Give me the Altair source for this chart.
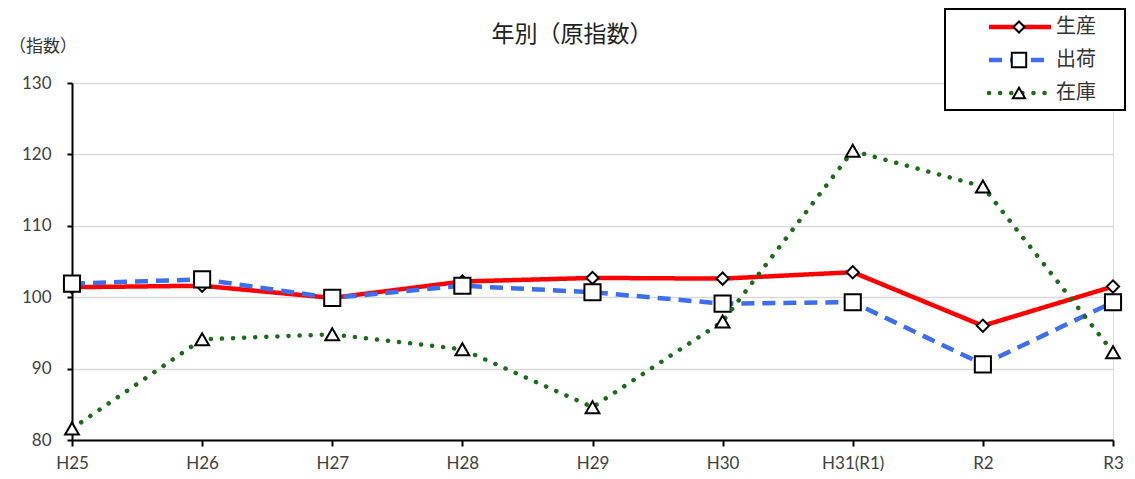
import altair as alt
import pandas as pd

years = ["H25", "H26", "H27", "H28", "H29", "H30", "H31(R1)", "R2", "R3"]
seisan = [101.4, 101.6, 99.9, 102.2, 102.7, 102.6, 103.5, 96.0, 101.5]
shukka = [101.9, 102.5, 99.9, 101.6, 100.7, 99.1, 99.3, 90.6, 99.3]
zaiko = [81.6, 94.1, 94.8, 92.7, 84.6, 96.6, 120.5, 115.5, 92.3]
series_names = ["生産", "出荷", "在庫"]
y_ticks = [80, 90, 100, 110, 120, 130]

rows = []
for name, vals in zip(series_names, [seisan, shukka, zaiko]):
    for yr, v in zip(years, vals):
        rows.append({"year": yr, "value": v, "series": name})
df = pd.DataFrame(rows)

FONT_JP = "Noto Sans CJK JP"
FONT_NUM = "Lato"

x_enc = alt.X(
    "year:N", sort=years,
    scale=alt.Scale(type="point", padding=0),
    axis=alt.Axis(title=None, labelAngle=0, grid=False, domainColor="black", domainWidth=2,
                  tickColor="black", tickSize=6, tickWidth=2, labelPadding=9,
                  labelFont=FONT_NUM, labelFontSize=17, labelColor="#404040"),
)
y_enc = alt.Y(
    "value:Q",
    scale=alt.Scale(domain=[80, 130], nice=False, zero=False),
    axis=alt.Axis(title=None, values=y_ticks, grid=True, gridColor="#d9d9d9", gridWidth=1.5,
                  domainColor="black", domainWidth=2, tickColor="black", tickSize=5, tickWidth=2,
                  labelPadding=16, labelFont=FONT_NUM, labelFontSize=17, labelColor="#404040"),
)

styles = {
    "生産": dict(color="#ff0000", dash=[1, 0], cap="butt", shape="diamond", size=150),
    "出荷": dict(color="#3d6ef0", dash=[13, 8], cap="butt", shape="square", size=260),
    "在庫": dict(color="#1a6b1a", dash=[0.1, 11], cap="round", shape="triangle-up", size=190),
}

base = alt.Chart(df)
layers = []
for name in series_names:
    s = styles[name]
    sub = base.transform_filter(alt.datum.series == name)
    layers.append(
        sub.mark_line(color=s["color"], strokeWidth=4.5, strokeDash=s["dash"], strokeCap=s["cap"])
        .encode(x=x_enc, y=y_enc)
    )
    layers.append(
        sub.mark_point(shape=s["shape"], size=s["size"], filled=True, fill="white",
                       stroke="black", strokeWidth=2, opacity=1)
        .encode(x=x_enc, y=y_enc)
    )

one = pd.DataFrame({"a": [0]})
# Title and y-axis unit
layers.append(alt.Chart(one).mark_text(text="年別（原指数）", font=FONT_JP, fontSize=23, color="#222222",
                                       align="center", baseline="middle")
              .encode(x=alt.value(500), y=alt.value(-48)))
layers.append(alt.Chart(one).mark_text(text="（指数）", font=FONT_JP, fontSize=17, color="#333333",
                                       align="left", baseline="middle")
              .encode(x=alt.value(-63), y=alt.value(-36)))

# Legend box
layers.append(alt.Chart(one).mark_rect(fill="white", stroke="black", strokeWidth=2)
              .encode(x=alt.value(873), x2=alt.value(1053), y=alt.value(-74), y2=alt.value(27)))
legend_y = [-56, -23, 10]
for name, ly in zip(series_names, legend_y):
    s = styles[name]
    layers.append(alt.Chart(one).mark_rule(color=s["color"], strokeWidth=4.5, strokeDash=s["dash"],
                                           strokeCap=s["cap"])
                  .encode(x=alt.value(917), x2=alt.value(979), y=alt.value(ly)))
    layers.append(alt.Chart(one).mark_point(shape=s["shape"], size=s["size"] * 0.8, filled=True, fill="white",
                                            stroke="black", strokeWidth=2, opacity=1)
                  .encode(x=alt.value(947), y=alt.value(ly)))
    layers.append(alt.Chart(one).mark_text(text=name, font=FONT_JP, fontSize=20, color="#333333",
                                           align="left", baseline="middle")
                  .encode(x=alt.value(984), y=alt.value(ly)))

chart = alt.layer(*layers).properties(
    width=1041, height=357,
    autosize=alt.AutoSizeParams(type="none"),
    padding={"left": 64, "top": 75, "right": 14, "bottom": 31},
).configure_view(stroke=None).configure(background="white")

chart.save("out.html", embed_options={"renderer": "svg", "actions": False})
